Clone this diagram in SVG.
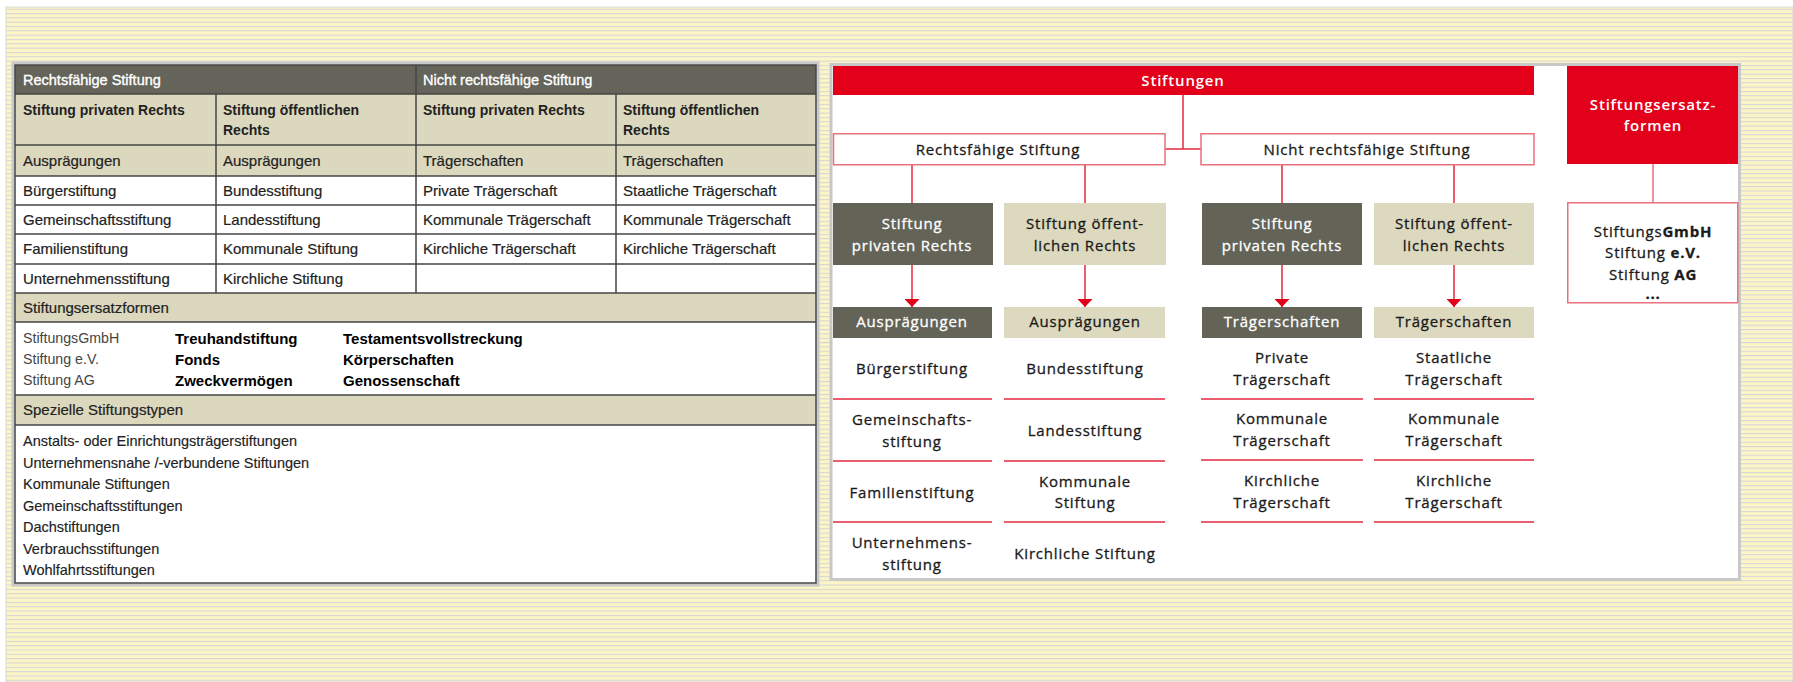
<svg xmlns="http://www.w3.org/2000/svg" width="1793" height="682" viewBox="0 0 1793 682">
<defs>
<pattern id="stripes" patternUnits="userSpaceOnUse" width="20" height="4.33">
<rect width="20" height="4.33" fill="#fcf5c6"/>
<rect y="0" width="20" height="1" fill="#d4d4dc"/>
</pattern>
<marker id="arr" viewBox="0 0 8 15" refX="8" refY="7.5" markerWidth="8" markerHeight="15" markerUnits="userSpaceOnUse" orient="auto">
<path d="M0,0 L8,7.5 L0,15 z" fill="#e2001a"/>
</marker>
<style>
.t{font-family:"Liberation Sans",Arial,sans-serif;font-size:15px;fill:#222;stroke:#222;stroke-width:0.2px}
.tb{font-family:"Liberation Sans",Arial,sans-serif;font-size:14px;font-weight:bold;fill:#222}
.tb2{font-family:"Liberation Sans",Arial,sans-serif;font-size:15px;font-weight:bold;fill:#000}
.th{font-family:"Liberation Sans",Arial,sans-serif;font-size:14.5px;fill:#fff;stroke:#fff;stroke-width:0.35px}
.tg{font-family:"Liberation Sans",Arial,sans-serif;font-size:14.2px;fill:#444}
.tl{font-family:"Liberation Sans",Arial,sans-serif;font-size:14.5px;fill:#222;stroke:#222;stroke-width:0.15px}
.dark{fill:#64645a}
.beige{fill:#dcd8be}
.grid{stroke:#444;stroke-width:1.5;fill:none}
.d{font-family:"Open Sans","Liberation Sans",sans-serif;font-size:15px;letter-spacing:0.8px;fill:#1a1a1a;stroke:#1a1a1a;stroke-width:0.3px;text-anchor:middle}
.dw{font-family:"Open Sans","Liberation Sans",sans-serif;font-size:15px;letter-spacing:0.8px;fill:#fff;stroke:#fff;stroke-width:0.3px;text-anchor:middle}
.dh{font-family:"Open Sans","Liberation Sans",sans-serif;font-size:15px;font-weight:600;letter-spacing:0.8px;fill:#fff;text-anchor:middle}
.ddark{fill:#636357}
.dbeige{fill:#dcd9bf}
.red{fill:#e2001a}
.sep{stroke:#e3283d;stroke-width:1.5}
.pbox{fill:#fff;stroke:#e9707c;stroke-width:1.5}
.con{stroke:#e3283d;stroke-width:1.5;fill:none}
.conp{stroke:#e9707c;stroke-width:1.5;fill:none}
</style>
</defs>

<rect width="1793" height="682" fill="#fff"/>
<rect x="6" y="7" width="1787" height="675" fill="url(#stripes)" stroke="#d8d8d8" stroke-width="1"/>

<!-- LEFT TABLE -->
<g id="table">
<rect x="13" y="63" width="805" height="522" fill="#fff" stroke="#c8c8c8" stroke-width="3"/>
<rect class="dark" x="15" y="65" width="801" height="29"/>
<rect class="beige" x="15" y="94" width="801" height="82"/>
<rect class="beige" x="15" y="293" width="801" height="29"/>
<rect class="beige" x="15" y="395" width="801" height="30"/>
<g class="grid">
<rect x="15" y="65" width="801" height="518"/>
<line x1="15" y1="94" x2="816" y2="94"/>
<line x1="15" y1="145" x2="816" y2="145"/>
<line x1="15" y1="176" x2="816" y2="176"/>
<line x1="15" y1="205" x2="816" y2="205"/>
<line x1="15" y1="234" x2="816" y2="234"/>
<line x1="15" y1="264" x2="816" y2="264"/>
<line x1="15" y1="293" x2="816" y2="293"/>
<line x1="15" y1="322" x2="816" y2="322"/>
<line x1="15" y1="395" x2="816" y2="395"/>
<line x1="15" y1="425" x2="816" y2="425"/>
<line x1="416" y1="65" x2="416" y2="293"/>
<line x1="216" y1="94" x2="216" y2="293"/>
<line x1="616" y1="94" x2="616" y2="293"/>
</g>
<text class="th" x="23" y="85">Rechtsfähige Stiftung</text>
<text class="th" x="423" y="85">Nicht rechtsfähige Stiftung</text>
<text class="tb" x="23" y="115">Stiftung privaten Rechts</text>
<text class="tb" x="223" y="115">Stiftung öffentlichen</text>
<text class="tb" x="223" y="135">Rechts</text>
<text class="tb" x="423" y="115">Stiftung privaten Rechts</text>
<text class="tb" x="623" y="115">Stiftung öffentlichen</text>
<text class="tb" x="623" y="135">Rechts</text>
<text class="t" x="23" y="166">Ausprägungen</text>
<text class="t" x="223" y="166">Ausprägungen</text>
<text class="t" x="423" y="166">Trägerschaften</text>
<text class="t" x="623" y="166">Trägerschaften</text>
<text class="t" x="23" y="196">Bürgerstiftung</text>
<text class="t" x="223" y="196">Bundesstiftung</text>
<text class="t" x="423" y="196">Private Trägerschaft</text>
<text class="t" x="623" y="196">Staatliche Trägerschaft</text>
<text class="t" x="23" y="225">Gemeinschaftsstiftung</text>
<text class="t" x="223" y="225">Landesstiftung</text>
<text class="t" x="423" y="225">Kommunale Trägerschaft</text>
<text class="t" x="623" y="225">Kommunale Trägerschaft</text>
<text class="t" x="23" y="254">Familienstiftung</text>
<text class="t" x="223" y="254">Kommunale Stiftung</text>
<text class="t" x="423" y="254">Kirchliche Trägerschaft</text>
<text class="t" x="623" y="254">Kirchliche Trägerschaft</text>
<text class="t" x="23" y="284">Unternehmensstiftung</text>
<text class="t" x="223" y="284">Kirchliche Stiftung</text>
<text class="t" x="23" y="313">Stiftungsersatzformen</text>
<text class="tg" x="23" y="343">StiftungsGmbH</text>
<text class="tg" x="23" y="364">Stiftung e.V.</text>
<text class="tg" x="23" y="385">Stiftung AG</text>
<text class="tb2" x="175" y="344">Treuhandstiftung</text>
<text class="tb2" x="175" y="365">Fonds</text>
<text class="tb2" x="175" y="386">Zweckvermögen</text>
<text class="tb2" x="343" y="344">Testamentsvollstreckung</text>
<text class="tb2" x="343" y="365">Körperschaften</text>
<text class="tb2" x="343" y="386">Genossenschaft</text>
<text class="t" x="23" y="415">Spezielle Stiftungstypen</text>
<text class="tl" x="23" y="446">Anstalts- oder Einrichtungsträgerstiftungen</text>
<text class="tl" x="23" y="467.5">Unternehmensnahe /-verbundene Stiftungen</text>
<text class="tl" x="23" y="489">Kommunale Stiftungen</text>
<text class="tl" x="23" y="510.5">Gemeinschaftsstiftungen</text>
<text class="tl" x="23" y="532">Dachstiftungen</text>
<text class="tl" x="23" y="553.5">Verbrauchsstiftungen</text>
<text class="tl" x="23" y="575">Wohlfahrtsstiftungen</text>
</g>

<!-- RIGHT PANEL -->
<rect id="panel" x="831" y="64.5" width="908.5" height="515" fill="#fff" stroke="#c8c8c8" stroke-width="3"/>

<g id="connectors">
<line class="con" x1="1183" y1="95" x2="1183" y2="149"/>
<line class="con" x1="1165" y1="149" x2="1201" y2="149"/>
<line class="con" x1="912" y1="165" x2="912" y2="203"/>
<line class="con" x1="1085" y1="165" x2="1085" y2="203"/>
<line class="con" x1="1282" y1="165" x2="1282" y2="203"/>
<line class="con" x1="1454" y1="165" x2="1454" y2="203"/>
<line class="con" x1="912" y1="265" x2="912" y2="307" marker-end="url(#arr)"/>
<line class="con" x1="1085" y1="265" x2="1085" y2="307" marker-end="url(#arr)"/>
<line class="con" x1="1282" y1="265" x2="1282" y2="307" marker-end="url(#arr)"/>
<line class="con" x1="1454" y1="265" x2="1454" y2="307" marker-end="url(#arr)"/>
<line class="conp" x1="1653" y1="164" x2="1653" y2="202"/>
</g>

<g id="n-stiftungen">
<rect class="red" x="833" y="66" width="701" height="29"/>
<text class="dh" x="1183" y="86">Stiftungen</text>
</g>
<g id="n-rechtsfaehig">
<rect class="pbox" x="833.5" y="133.75" width="331.5" height="31"/>
<text class="d" x="998" y="155">Rechtsfähige Stiftung</text>
</g>
<g id="n-nicht-rechtsfaehig">
<rect class="pbox" x="1201" y="133.75" width="333" height="31"/>
<text class="d" x="1367" y="155">Nicht rechtsfähige Stiftung</text>
</g>
<g id="n-privat1">
<rect class="ddark" x="833" y="203" width="160" height="62"/>
<text class="dw" x="912" y="229">Stiftung</text>
<text class="dw" x="912" y="251">privaten Rechts</text>
</g>
<g id="n-oeff1">
<rect class="dbeige" x="1004" y="203" width="162" height="62"/>
<text class="d" x="1085" y="229">Stiftung öffent-</text>
<text class="d" x="1085" y="251">lichen Rechts</text>
</g>
<g id="n-privat2">
<rect class="ddark" x="1202" y="203" width="160" height="62"/>
<text class="dw" x="1282" y="229">Stiftung</text>
<text class="dw" x="1282" y="251">privaten Rechts</text>
</g>
<g id="n-oeff2">
<rect class="dbeige" x="1374" y="203" width="160" height="62"/>
<text class="d" x="1454" y="229">Stiftung öffent-</text>
<text class="d" x="1454" y="251">lichen Rechts</text>
</g>
<g id="n-auspr1">
<rect class="ddark" x="833" y="307" width="159" height="31"/>
<text class="dw" x="912" y="327">Ausprägungen</text>
</g>
<g id="n-auspr2">
<rect class="dbeige" x="1004" y="307" width="161" height="31"/>
<text class="d" x="1085" y="327">Ausprägungen</text>
</g>
<g id="n-traeg1">
<rect class="ddark" x="1202" y="307" width="160" height="31"/>
<text class="dw" x="1282" y="327">Trägerschaften</text>
</g>
<g id="n-traeg2">
<rect class="dbeige" x="1374" y="307" width="160" height="31"/>
<text class="d" x="1454" y="327">Trägerschaften</text>
</g>

<g id="list1">
<text class="d" x="912" y="374">Bürgerstiftung</text>
<line class="sep" x1="833" y1="399" x2="992" y2="399"/>
<text class="d" x="912" y="425">Gemeinschafts-</text>
<text class="d" x="912" y="447">stiftung</text>
<line class="sep" x1="833" y1="461" x2="992" y2="461"/>
<text class="d" x="912" y="498">Familienstiftung</text>
<line class="sep" x1="833" y1="522" x2="992" y2="522"/>
<text class="d" x="912" y="548">Unternehmens-</text>
<text class="d" x="912" y="570">stiftung</text>
</g>
<g id="list2">
<text class="d" x="1085" y="374">Bundesstiftung</text>
<line class="sep" x1="1004" y1="399" x2="1165" y2="399"/>
<text class="d" x="1085" y="436">Landesstiftung</text>
<line class="sep" x1="1004" y1="461" x2="1165" y2="461"/>
<text class="d" x="1085" y="487">Kommunale</text>
<text class="d" x="1085" y="508">Stiftung</text>
<line class="sep" x1="1004" y1="522" x2="1165" y2="522"/>
<text class="d" x="1085" y="559">Kirchliche Stiftung</text>
</g>
<g id="list3">
<text class="d" x="1282" y="363">Private</text>
<text class="d" x="1282" y="385">Trägerschaft</text>
<line class="sep" x1="1201" y1="399" x2="1363" y2="399"/>
<text class="d" x="1282" y="424">Kommunale</text>
<text class="d" x="1282" y="446">Trägerschaft</text>
<line class="sep" x1="1201" y1="460" x2="1363" y2="460"/>
<text class="d" x="1282" y="486">Kirchliche</text>
<text class="d" x="1282" y="508">Trägerschaft</text>
<line class="sep" x1="1201" y1="522" x2="1363" y2="522"/>
</g>
<g id="list4">
<text class="d" x="1454" y="363">Staatliche</text>
<text class="d" x="1454" y="385">Trägerschaft</text>
<line class="sep" x1="1374" y1="399" x2="1534" y2="399"/>
<text class="d" x="1454" y="424">Kommunale</text>
<text class="d" x="1454" y="446">Trägerschaft</text>
<line class="sep" x1="1374" y1="460" x2="1534" y2="460"/>
<text class="d" x="1454" y="486">Kirchliche</text>
<text class="d" x="1454" y="508">Trägerschaft</text>
<line class="sep" x1="1374" y1="522" x2="1534" y2="522"/>
</g>

<g id="n-ersatz">
<rect class="red" x="1567" y="66" width="171" height="98"/>
<text class="dh" x="1653" y="110">Stiftungsersatz-</text>
<text class="dh" x="1653" y="131">formen</text>
</g>
<g id="n-ersatz-list">
<rect class="pbox" x="1567.75" y="202.75" width="170" height="100"/>
<text class="d" x="1653" y="237">Stiftungs<tspan font-weight="bold">GmbH</tspan></text>
<text class="d" x="1653" y="258">Stiftung <tspan font-weight="bold">e.V.</tspan></text>
<text class="d" x="1653" y="280">Stiftung <tspan font-weight="bold">AG</tspan></text>
<text class="d" x="1653" y="299" font-weight="bold">...</text>
</g>
</svg>
